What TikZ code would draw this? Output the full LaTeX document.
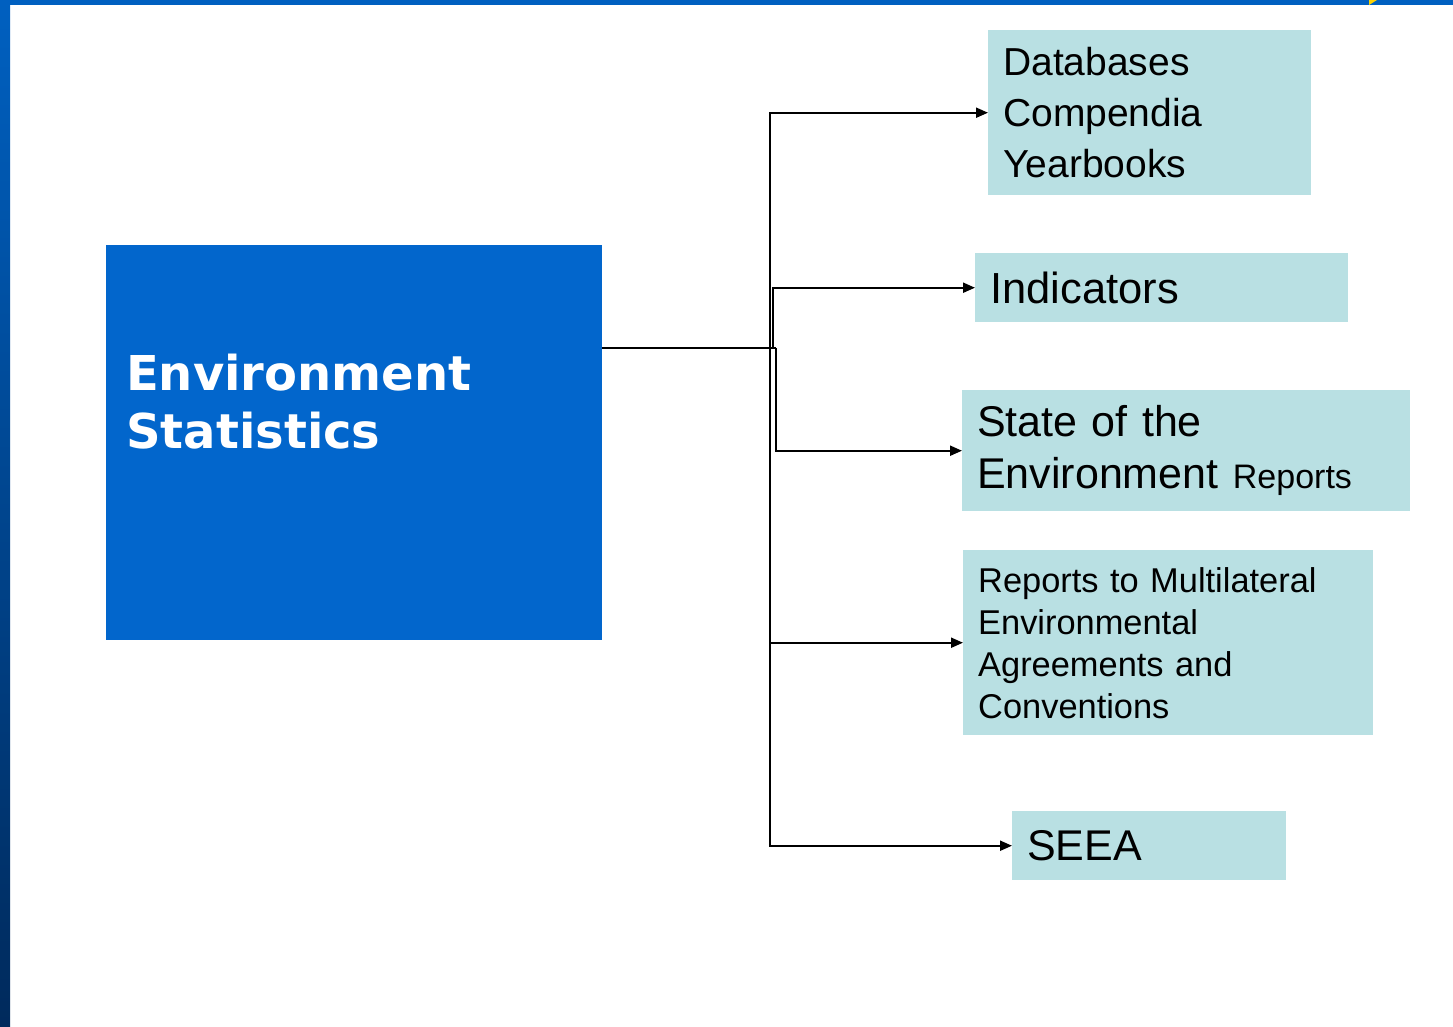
\documentclass[tikz,border=0pt]{standalone}
\usepackage{fontspec}
\setmainfont{Liberation Sans}
\newfontfamily\headfont{DejaVu Sans}
\usepackage{tikz}
\usetikzlibrary {arrows.meta,
                 calc,
                 positioning}
\definecolor{slideblue}{RGB}{0,96,192}
\definecolor{slidedark}{RGB}{0,42,92}
\definecolor{esblue}{RGB}{2,102,204}
\definecolor{infofill}{RGB}{185,224,227}
\tikzset{
        base/.style={inner xsep=15pt, inner ysep=0pt, align=left,
                     anchor=north west},
        info/.style={base, fill=infofill, text=black},
        main/.style={base, fill=esblue},
        myarrow/.style={-{Triangle[length=12pt, width=10pt]},
                        line width=2pt},
 }

\begin{document}
\begin{tikzpicture}[x=1pt, y=-1pt]
    \useasboundingbox (0,0) rectangle (1453,1026);
    % slide frame
    \fill[white] (0,0) rectangle (1453,1026);
    \shade[top color=slideblue, bottom color=slidedark] (0,0) rectangle (10,1026);
    \fill[slideblue] (0,0) rectangle (1453,5);
    \fill[yellow!70!orange] (1369,5) -- (1377,0) -- (1369,0) -- cycle;

    \node[main, minimum width=496pt, minimum height=395pt] (es) at (106,245) {};
    \node[base, anchor=base west, text=white,
          font=\headfont\bfseries\fontsize{48}{58}\selectfont]
         (estext) at ($(es.north west)+(5,203)$) {Environment\\Statistics};

    \node[info, text width=293pt, minimum height=165pt,
          font=\fontsize{39}{51}\selectfont]
         (db) at (988,30) {Databases\\Compendia\\Yearbooks};
    \node[info, text width=343pt, minimum height=69pt,
          font=\fontsize{43.5}{52}\selectfont]
         (ind) at (975,253) {Indicators};
    \node[info, text width=418pt, minimum height=121pt,
          font=\fontsize{43}{52}\selectfont]
         (soe) at (962,390) {State of the\\Environment
                             {\fontsize{34}{52}\selectfont Reports}};
    \node[info, text width=380pt, minimum height=185pt,
          font=\fontsize{34.4}{42}\selectfont]
         (mea) at (963,550) {Reports to Multilateral\\Environmental\\
                             Agreements and\\Conventions};
    \node[info, text width=244pt, minimum height=69pt,
          font=\fontsize{43}{52}\selectfont]
         (seea) at (1012,811) {SEEA};

    \coordinate (hub) at ($(es.north east)!0.26!(es.south east)+(174,0)$);
    \draw[line width=2pt] ($(es.north east)!0.26!(es.south east)$) -- (hub);
    \draw[myarrow] ([xshift=-6pt]hub) |- (db.west);
    \draw[myarrow] ([xshift=-3pt]hub) |- (ind.west);
    \draw[myarrow] (hub) |- (soe.west);
    \draw[myarrow] ([xshift=-6pt]hub) |- (mea.west);
    \draw[myarrow] ([xshift=-6pt]hub) |- (seea.west);
\end{tikzpicture}
\end{document}
